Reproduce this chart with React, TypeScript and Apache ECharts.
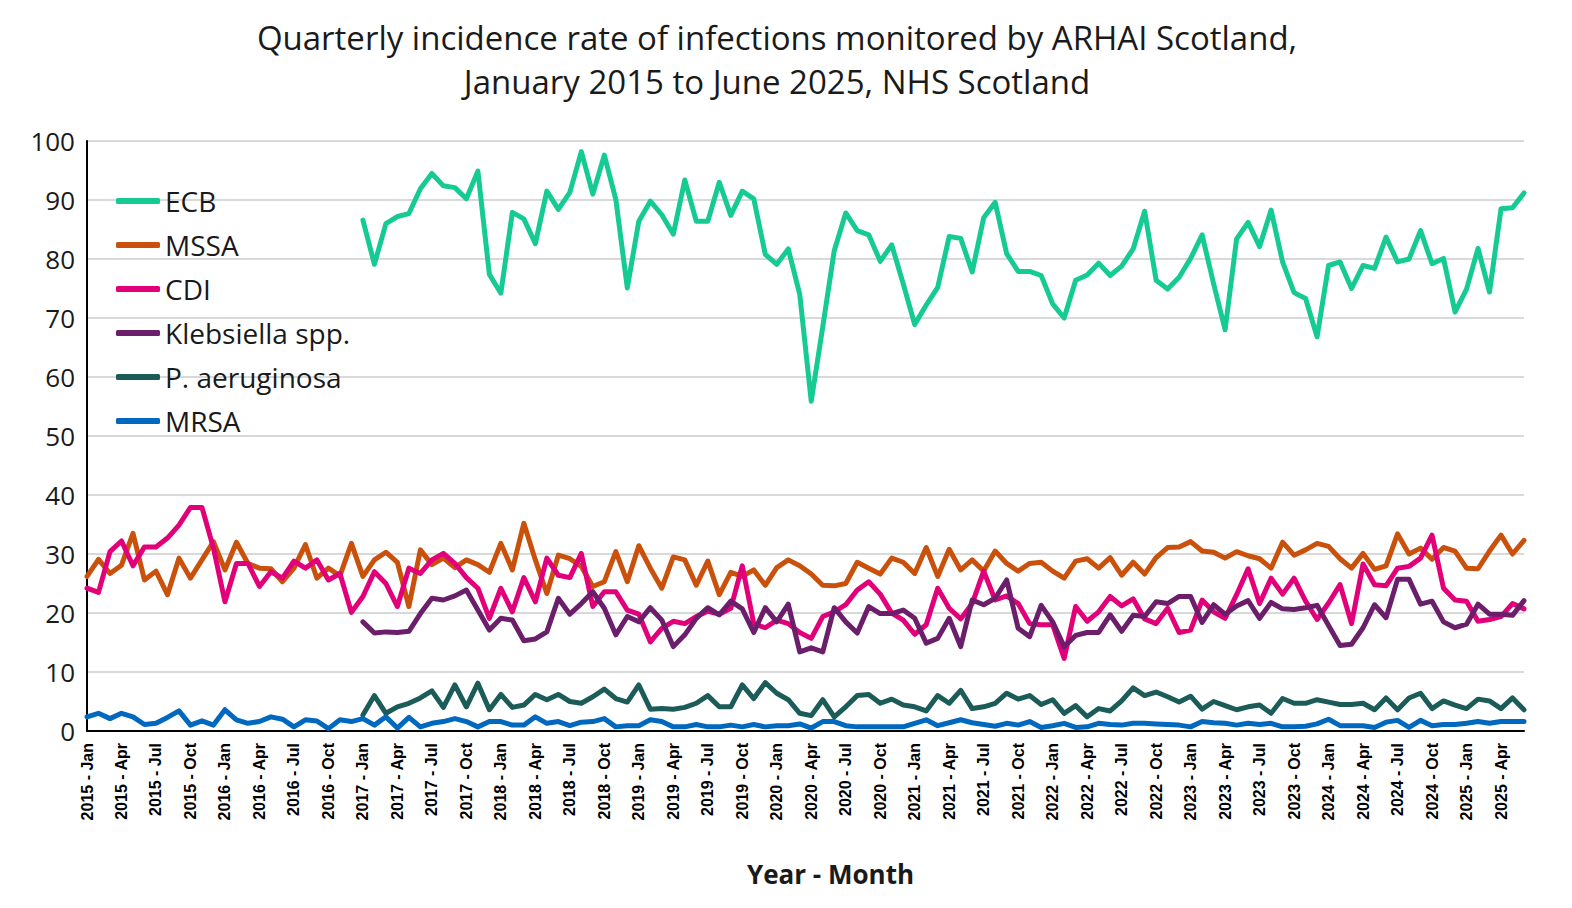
import { useEffect, useRef } from "react";
import * as echarts from "echarts";

// Monthly periods Jan 2015 – Jun 2025
const YEARS = [2015, 2016, 2017, 2018, 2019, 2020, 2021, 2022, 2023, 2024, 2025];
const MONTHS = ["Jan", "Feb", "Mar", "Apr", "May", "Jun", "Jul", "Aug", "Sep", "Oct", "Nov", "Dec"];
const LAST_YEAR_MONTHS = 6;

const PERIODS: string[] = [];
YEARS.forEach((y) => {
  const count = y === 2025 ? LAST_YEAR_MONTHS : 12;
  for (let m = 0; m < count; m++) PERIODS.push(`${y} - ${MONTHS[m]}`);
});

const Y_TICKS = [0, 10, 20, 30, 40, 50, 60, 70, 80, 90, 100];

// Rates per 100,000 total occupied bed days (first 24 months not reported for ECB / Klebsiella / P. aeruginosa)
const N = null;
const NOT_REPORTED_2015_2016 = [N, N, N, N, N, N, N, N, N, N, N, N, N, N, N, N, N, N, N, N, N, N, N, N];

const ECB = [
  ...NOT_REPORTED_2015_2016,
  86.6, 79.1, 86.0, 87.2, 87.7, 91.9, 94.5, 92.4, 92.1, 90.2, 94.9, 77.4,
  74.2, 87.9, 86.8, 82.6, 91.5, 88.4, 91.3, 98.2, 91.0, 97.6, 90.1, 75.1,
  86.4, 89.8, 87.5, 84.2, 93.4, 86.4, 86.4, 93.0, 87.4, 91.5, 90.2, 80.8,
  79.1, 81.7, 74.0, 55.9, 68.5, 81.4, 87.8, 84.8, 84.1, 79.6, 82.4, 75.8,
  68.9, 72.2, 75.2, 83.8, 83.5, 77.8, 87.0, 89.6, 80.9, 77.9, 77.9, 77.2,
  72.4, 70.0, 76.4, 77.3, 79.3, 77.2, 78.8, 81.7, 88.1, 76.4, 74.9, 76.9,
  80.1, 84.1, 75.8, 68.0, 83.4, 86.2, 82.1, 88.3, 79.5, 74.3, 73.3, 66.8,
  78.9, 79.5, 75.0, 78.9, 78.4, 83.7, 79.5, 80.0, 84.8, 79.2, 80.1, 71.0,
  74.9, 81.8, 74.4, 88.5, 88.7, 91.2,
];

const MSSA = [
  26.2, 29.1, 26.7, 28.1, 33.5, 25.6, 27.1, 23.1, 29.3, 25.9, 29.0, 32.1,
  27.3, 32.0, 28.4, 27.6, 27.5, 25.3, 27.6, 31.6, 25.9, 27.6, 26.3, 31.8,
  26.2, 29.0, 30.3, 28.6, 21.1, 30.7, 28.2, 29.3, 27.7, 29.0, 28.2, 26.9,
  31.8, 27.3, 35.2, 29.0, 23.3, 29.8, 29.2, 27.9, 24.5, 25.3, 30.4, 25.3,
  31.4, 27.6, 24.2, 29.5, 29.0, 24.7, 28.8, 23.1, 26.9, 26.2, 27.3, 24.7,
  27.7, 29.0, 28.0, 26.6, 24.7, 24.6, 25.0, 28.6, 27.6, 26.6, 29.3, 28.6,
  26.7, 31.1, 26.2, 30.8, 27.3, 29.0, 27.1, 30.5, 28.4, 27.1, 28.4, 28.6,
  27.1, 25.9, 28.8, 29.2, 27.6, 29.4, 26.4, 28.6, 26.6, 29.4, 31.1, 31.2,
  32.1, 30.5, 30.3, 29.3, 30.4, 29.7, 29.2, 27.6, 32.0, 29.8, 30.7, 31.8,
  31.3, 29.2, 27.6, 30.1, 27.4, 28.0, 33.4, 30.0, 31.0, 29.1, 31.1, 30.5,
  27.6, 27.5, 30.5, 33.2, 30.0, 32.3,
];

const CDI = [
  24.2, 23.5, 30.4, 32.2, 28.0, 31.2, 31.2, 32.7, 34.9, 37.9, 37.9, 31.0,
  21.9, 28.4, 28.4, 24.5, 27.0, 25.9, 28.8, 27.6, 29.0, 25.6, 26.7, 20.1,
  22.8, 27.0, 25.0, 21.1, 27.6, 26.7, 29.0, 30.1, 28.4, 26.0, 24.2, 19.1,
  24.2, 20.2, 26.0, 21.9, 29.3, 26.4, 26.0, 30.1, 21.1, 23.6, 23.6, 20.5,
  19.8, 15.1, 17.4, 18.6, 18.2, 19.4, 20.3, 19.8, 20.8, 28.0, 18.2, 17.5,
  18.8, 18.2, 16.7, 15.7, 19.4, 20.2, 21.4, 23.9, 25.3, 23.2, 20.0, 18.8,
  16.4, 18.0, 24.2, 20.8, 19.0, 21.6, 27.1, 22.2, 22.9, 21.6, 18.2, 18.0,
  18.0, 12.3, 21.1, 18.6, 20.2, 22.8, 21.2, 22.4, 19.0, 18.2, 20.8, 16.7,
  17.1, 22.2, 20.2, 19.1, 23.1, 27.5, 21.6, 25.9, 23.2, 25.9, 22.0, 18.9,
  21.7, 24.8, 18.2, 28.3, 24.8, 24.6, 27.6, 27.9, 29.3, 33.2, 24.2, 22.2,
  22.0, 18.6, 18.9, 19.4, 21.6, 20.7,
];

const KLEBSIELLA = [
  ...NOT_REPORTED_2015_2016,
  18.5, 16.6, 16.8, 16.7, 16.9, 19.9, 22.5, 22.2, 22.9, 23.9, 20.5, 17.1,
  19.1, 18.8, 15.3, 15.6, 16.8, 22.5, 19.8, 21.6, 23.6, 20.8, 16.3, 19.4,
  18.5, 20.9, 18.8, 14.3, 16.3, 19.1, 20.9, 19.7, 22.0, 20.7, 16.7, 20.9,
  18.5, 21.5, 13.4, 14.1, 13.4, 20.9, 18.5, 16.6, 21.1, 19.9, 19.9, 20.5,
  19.1, 14.9, 15.7, 19.1, 14.3, 22.2, 21.4, 22.5, 25.6, 17.4, 16.0, 21.3,
  18.5, 14.3, 16.2, 16.7, 16.7, 19.7, 16.9, 19.6, 19.4, 21.9, 21.6, 22.8,
  22.8, 18.4, 21.4, 19.8, 21.2, 22.1, 19.1, 21.8, 20.7, 20.6, 20.9, 21.3,
  17.9, 14.5, 14.7, 17.5, 21.4, 19.2, 25.7, 25.7, 21.5, 22.0, 18.5, 17.5,
  18.1, 21.5, 19.8, 19.8, 19.6, 22.1,
];

const P_AERUGINOSA = [
  ...NOT_REPORTED_2015_2016,
  2.7, 6.0, 3.0, 4.1, 4.7, 5.6, 6.8, 4.0, 7.8, 4.1, 8.1, 3.6,
  6.2, 4.0, 4.4, 6.2, 5.3, 6.2, 5.0, 4.7, 5.8, 7.1, 5.5, 4.9,
  7.8, 3.7, 3.8, 3.7, 4.0, 4.7, 6.0, 4.1, 4.1, 7.8, 5.5, 8.2,
  6.4, 5.3, 3.0, 2.6, 5.3, 2.4, 4.1, 6.0, 6.2, 4.7, 5.4, 4.4,
  4.1, 3.4, 6.0, 4.7, 6.9, 3.8, 4.1, 4.7, 6.4, 5.4, 6.0, 4.5,
  5.3, 3.0, 4.3, 2.4, 3.8, 3.4, 5.1, 7.3, 6.0, 6.6, 5.8, 4.9,
  5.9, 3.7, 5.0, 4.3, 3.6, 4.1, 4.4, 3.0, 5.5, 4.7, 4.7, 5.3,
  4.9, 4.5, 4.5, 4.7, 3.6, 5.6, 3.6, 5.6, 6.4, 3.8, 5.1, 4.4,
  3.8, 5.4, 5.1, 3.8, 5.6, 3.6,
];

const MRSA = [
  2.4, 3.0, 2.1, 3.0, 2.4, 1.1, 1.3, 2.3, 3.4, 1.0, 1.7, 1.0,
  3.6, 1.9, 1.3, 1.6, 2.4, 2.0, 0.7, 1.9, 1.7, 0.4, 1.9, 1.6,
  2.1, 1.0, 2.4, 0.5, 2.3, 0.7, 1.3, 1.6, 2.1, 1.6, 0.7, 1.6,
  1.6, 1.0, 1.0, 2.4, 1.3, 1.6, 0.9, 1.5, 1.6, 2.1, 0.7, 0.9,
  0.9, 1.9, 1.6, 0.7, 0.7, 1.1, 0.7, 0.7, 1.0, 0.7, 1.1, 0.7,
  0.9, 0.9, 1.2, 0.5, 1.6, 1.6, 0.9, 0.7, 0.7, 0.7, 0.7, 0.7,
  1.3, 1.9, 0.9, 1.4, 1.9, 1.4, 1.1, 0.8, 1.3, 1.0, 1.6, 0.6,
  0.9, 1.3, 0.6, 0.7, 1.3, 1.1, 1.0, 1.3, 1.3, 1.2, 1.1, 1.0,
  0.7, 1.6, 1.4, 1.3, 1.0, 1.3, 1.1, 1.3, 0.7, 0.7, 0.8, 1.2,
  2.0, 0.9, 0.9, 0.9, 0.6, 1.5, 1.8, 0.6, 1.8, 0.9, 1.1, 1.1,
  1.3, 1.6, 1.3, 1.6, 1.6, 1.6,
];

const SERIES = [
  { name: "ECB", data: ECB, color: "#16ca94" },
  { name: "MSSA", data: MSSA, color: "#c9510c" },
  { name: "CDI", data: CDI, color: "#e2007a" },
  { name: "Klebsiella spp.", data: KLEBSIELLA, color: "#6b1f6b" },
  { name: "P. aeruginosa", data: P_AERUGINOSA, color: "#1b5c58" },
  { name: "MRSA", data: MRSA, color: "#0068bf" },
];

const TITLE_LINES = [
  "Quarterly incidence rate of infections monitored by ARHAI Scotland,",
  "January 2015 to June 2025, NHS Scotland",
];
const X_NAME = "Year - Month";

const SANS = "'Open Sans', 'Noto Sans', sans-serif";
const ARIAL = "'Liberation Sans', Arial, sans-serif";

export default function App() {
  const ref = useRef<HTMLDivElement>(null);

  useEffect(() => {
    if (!ref.current) return;
    const chart = echarts.init(ref.current, null, { renderer: "svg" });

    chart.setOption({
      animation: false,
      backgroundColor: "#ffffff",
      textStyle: { fontFamily: SANS },
      graphic: TITLE_LINES.map((t, k) => ({
        type: "text",
        x: 777,
        y: 37 + k * 44,
        style: {
          text: t,
          fill: "#1a1a1a",
          font: `33px ${SANS}`,
          textAlign: "center",
          textVerticalAlign: "middle",
        },
      })),
      grid: { left: 87, right: 48, top: 141, bottom: 177, containLabel: false },
      legend: {
        orient: "vertical",
        left: 116,
        top: 184,
        padding: 0,
        itemWidth: 44,
        itemHeight: 6,
        itemGap: 10,
        icon: "roundRect",
        textStyle: { fontSize: 28, color: "#1a1a1a", fontFamily: SANS, lineHeight: 34 },
        data: SERIES.map((s) => s.name),
      },
      xAxis: {
        type: "category",
        data: PERIODS,
        boundaryGap: false,
        name: X_NAME,
        nameLocation: "middle",
        nameGap: 130,
        nameTextStyle: {
          fontSize: 26,
          fontWeight: "bold",
          color: "#1a1a1a",
          fontFamily: SANS,
          padding: [0, 0, 0, 50],
        },
        axisLine: { show: true, lineStyle: { color: "#000000", width: 2 } },
        axisTick: { show: false },
        axisLabel: {
          interval: 2,
          rotate: 90,
          fontSize: 16,
          fontWeight: "bold",
          color: "#000000",
          fontFamily: ARIAL,
          margin: 12,
        },
        splitLine: { show: false },
      },
      yAxis: {
        type: "value",
        min: Y_TICKS[0],
        max: Y_TICKS[Y_TICKS.length - 1],
        interval: Y_TICKS[1] - Y_TICKS[0],
        axisLine: { show: true, lineStyle: { color: "#000000", width: 2 } },
        axisTick: { show: false },
        axisLabel: { fontSize: 26, color: "#1a1a1a", fontFamily: SANS, margin: 12 },
        splitLine: { show: true, lineStyle: { color: "#d9d9d9", width: 2 } },
      },
      series: SERIES.map((s) => ({
        name: s.name,
        type: "line",
        data: s.data,
        showSymbol: false,
        symbol: "none",
        connectNulls: false,
        color: s.color,
        lineStyle: { color: s.color, width: 5, join: "round", cap: "round" },
      })),
    });

    return () => chart.dispose();
  }, []);

  return (
    <div
      ref={ref}
      style={{ position: "fixed", left: 0, top: 0, width: 1572, height: 908, background: "#fff" }}
    />
  );
}
